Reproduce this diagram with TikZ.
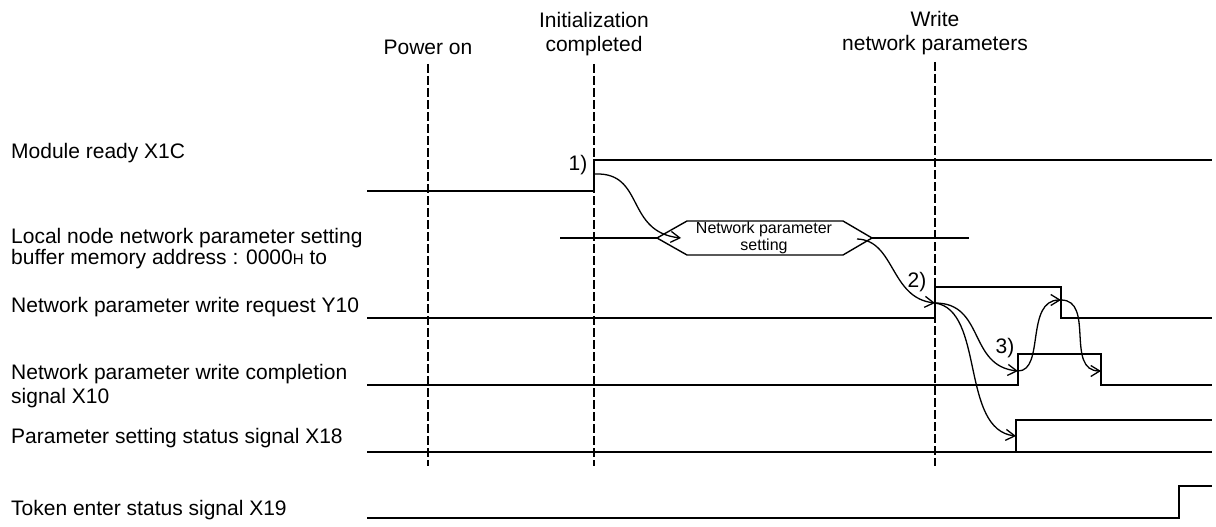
\documentclass[tikz,border=0pt]{standalone}
\usepackage{fontspec}
\setmainfont{Liberation Sans}
\usetikzlibrary{arrows.meta,positioning,calc}
\definecolor{ink}{HTML}{000000}
\tikzset{
  wave/.style={draw=ink,line width=1.6pt},
  basewave/.style={draw=ink,line width=2.4pt},
  timeline/.style={draw=ink,line width=2.4pt,dash pattern=on 9pt off 3pt},
  siglabel/.style={anchor=west,align=left,inner sep=0pt,
                   font=\fontsize{21}{21}\selectfont},
  eventlabel/.style={align=center,inner sep=0pt,
                     font=\fontsize{21}{24}\selectfont},
  steplabel/.style={inner sep=0pt,font=\fontsize{21}{21}\selectfont},
  hexbox/.style={draw=ink,line width=1.4pt,fill=white},
  hextext/.style={align=center,inner sep=0pt,
                  font=\fontsize{16}{16.5}\selectfont},
  cause/.style={-{Straight Barb[length=9pt,width=11pt]},line width=1.3pt,
                draw=ink}
}

\begin{document}
\begin{tikzpicture}[x=1pt,y=-1pt]
  \useasboundingbox (0,0) rectangle (1216,527);
  % event markers
  \node[eventlabel] (pwron) at (428,47) {Power on};
  \node[eventlabel] (initdone) at (594,34) {Initialization\\completed};
  \node[eventlabel] (wrparam) at (935,33) {Write\\network parameters};
  \draw[timeline] (428,64) -- (428,466);
  \draw[timeline] (594,64) -- (594,466);
  \draw[timeline] (935,62) -- (935,466);
  % signal names
  \node[siglabel] (lbready) at (11,153) {Module ready X1C};
  \node[siglabel] (lbbuf) at (11,249)
    {Local node network parameter setting\\buffer memory address : 0000{\fontsize{15}{15}\selectfont H} to};
  \node[siglabel] (lbreq) at (11,307) {Network parameter write request Y10};
  \node[siglabel] (lbcmp) at (11,386)
    {Network parameter write completion\\[3pt]signal X10};
  \node[siglabel] (lbsts) at (11,438) {Parameter setting status signal X18};
  \node[siglabel] (lbtok) at (11,510) {Token enter status signal X19};
  % waveforms
  \draw[wave] (367,191) -- (594,191) -- (594,160) -- (1212,160);
  \draw[wave] (560,238) -- (657,238);
  \draw[wave] (872,238) -- (969,238);
  \draw[hexbox] (657,238) -- (687,221) -- (843,221) -- (872,238)
    -- (843,255) -- (687,255) -- cycle;
  \node[hextext] (npset) at (764,238) {Network parameter\\setting};
  \draw[wave] (367,318) -- (935,318) -- (935,287) -- (1061,287)
    -- (1061,318) -- (1212,318);
  \draw[wave] (367,385) -- (1018,385) -- (1018,354) -- (1101,354)
    -- (1101,385) -- (1212,385);
  \draw[basewave] (367,452) -- (1212,452);
  \draw[wave] (1016,452) -- (1016,420) -- (1212,420);
  \draw[wave] (367,518) -- (1179,518) -- (1179,486) -- (1212,486);
  % edges
  \coordinate (rdyrise) at (595,174);
  \coordinate (hexin) at (681,238);
  \coordinate (hexout) at (857,239);
  \coordinate (reqrise) at (935,303);
  \coordinate (cmprise) at (1018,371);
  \coordinate (stsrise) at (1016,436);
  \coordinate (reqfall) at (1061,300);
  \coordinate (cmpfall) at (1101,371);
  \node[steplabel] (st1) at (578,165) {1)};
  \node[steplabel] (st2) at (917,282) {2)};
  \node[steplabel] (st3) at (1005,348) {3)};
  % cause arrows
  \draw[cause] (rdyrise) .. controls (645,172) and (625,232) .. (hexin);
  \draw[cause] (hexout) .. controls (895,240) and (890,298) .. (reqrise);
  \draw[cause] (reqrise) .. controls (985,303) and (968,366) .. (cmprise);
  \draw[cause] (reqrise) .. controls (985,310) and (960,430) .. (stsrise);
  \draw[cause] (cmprise) .. controls (1045,371) and (1025,300) .. (reqfall);
  \draw[cause] (reqfall) .. controls (1095,300) and (1065,371) .. (cmpfall);
\end{tikzpicture}
\end{document}
